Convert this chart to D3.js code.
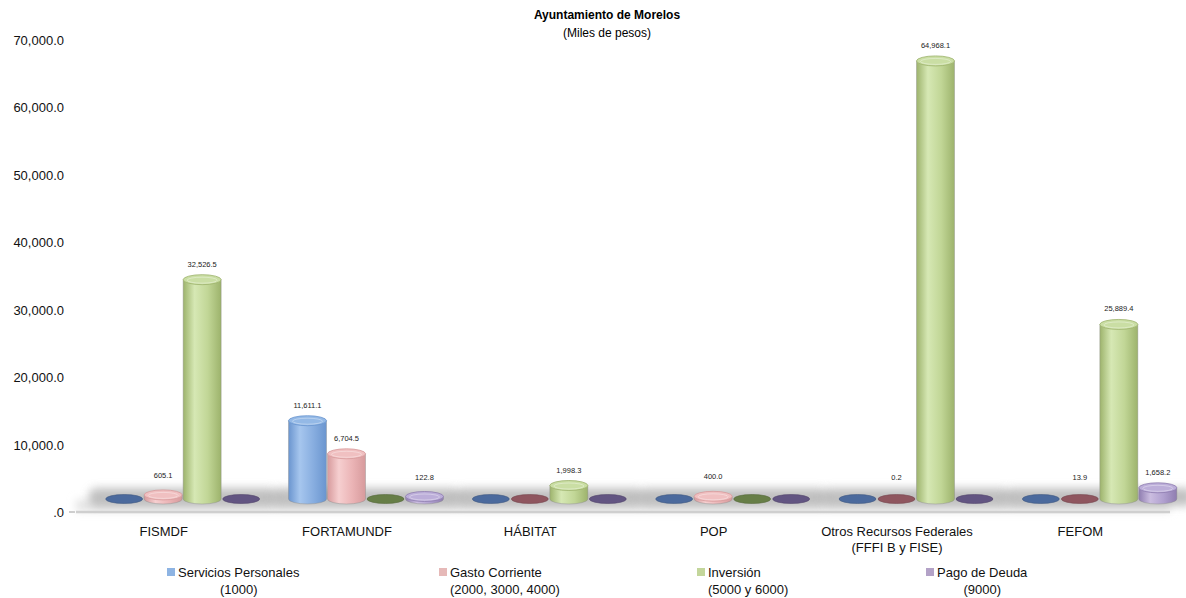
<!DOCTYPE html>
<html><head><meta charset="utf-8">
<script src="https://cdn.jsdelivr.net/npm/d3@7"></script>
<style>body{margin:0;background:#fff;}svg{display:block;font-family:"Liberation Sans",Arial,sans-serif;}</style>
</head><body>
<svg id="c" width="1186" height="598"></svg>
<script>
const categories = ["FISMDF","FORTAMUNDF","HÁBITAT","POP","Otros Recursos Federales|(FFFI B y FISE)","FEFOM"];
const seriesNames = ["Servicios Personales","Gasto Corriente","Inversión","Pago de Deuda"];
const seriesCodes = ["(1000)","(2000, 3000, 4000)","(5000 y 6000)","(9000)"];
const serviciosPersonales = [0, 11611.1, 0, 0, 0, 0];
const gastoCorriente = [605.1, 6704.5, 0, 400.0, 0.2, 13.9];
const inversion = [32526.5, 0, 1998.3, 0, 64968.1, 25889.4];
const pagoDeuda = [0, 122.8, 0, 0, 0, 1658.2];
const yTicks = [0,10000,20000,30000,40000,50000,60000,70000];
const seriesValues = [serviciosPersonales, gastoCorriente, inversion, pagoDeuda];

const light = [
  {edge:"#6a95cf", mid:"#a6c6ee", base:"#88aee0", top:"#94b9e6"},
  {edge:"#d79a9c", mid:"#f6cfd0", base:"#ebb4b6", top:"#f0c0c1"},
  {edge:"#9db36c", mid:"#d6e8b4", base:"#c1d696", top:"#cadea4"},
  {edge:"#8f7db0", mid:"#cbbde0", base:"#b0a0cf", top:"#bcaed9"}
];
const dark = ["#42639a","#8b4d57","#60793d","#5b4c7d"];
const legendColors = ["#8eb4e3","#e6b9b8","#c3d69b","#b3a2c7"];

const svg = d3.select("#c");
const defs = svg.append("defs");
light.forEach((c,i)=>{
  const g = defs.append("linearGradient").attr("id","g"+i).attr("x1","0").attr("x2","1").attr("y1","0").attr("y2","0");
  g.append("stop").attr("offset","0%").attr("stop-color",c.edge);
  g.append("stop").attr("offset","30%").attr("stop-color",c.mid);
  g.append("stop").attr("offset","65%").attr("stop-color",c.base);
  g.append("stop").attr("offset","100%").attr("stop-color",c.edge);
});
defs.append("filter").attr("id","blur").attr("x","-20%").attr("y","-100%").attr("width","140%").attr("height","300%")
  .append("feGaussianBlur").attr("stdDeviation",4.5);

const x = d3.scaleBand().domain(categories).range([72,1172]);
const xs = d3.scaleBand().domain(d3.range(4)).range([-78,78]);
const y = d3.scaleLinear().domain([0,70000]).range([512,40]);
const depth = 13, shiftX = 19, rx = 19, ry = 5;

// title
svg.append("text").attr("x",607).attr("y",19).attr("text-anchor","middle").attr("font-size",12).attr("font-weight","bold").text("Ayuntamiento de Morelos");
svg.append("text").attr("x",607).attr("y",37).attr("text-anchor","middle").attr("font-size",12).text("(Miles de pesos)");

// y axis labels
svg.append("g").selectAll("text").data(yTicks).join("text")
  .attr("x",64).attr("y",d=>y(d)+5).attr("text-anchor","end").attr("font-size",13).attr("fill","#111")
  .text(d=> d===0 ? ".0" : d3.format(",.1f")(d));
svg.append("line").attr("x1",69).attr("x2",75).attr("y1",y(0)).attr("y2",y(0)).attr("stroke","#bbb").attr("stroke-width",1.5);

// floor
const floor = svg.append("g");
floor.append("rect").attr("x",76).attr("y",500).attr("width",1094).attr("height",11).attr("fill","#e2e2e2").attr("filter","url(#blur)");
floor.selectAll("rect.sh").data(categories).join("rect").attr("class","sh")
  .attr("x",d=>x(d)+x.bandwidth()/2+shiftX-94).attr("y",488).attr("width",188).attr("height",18).attr("rx",8)
  .attr("fill","#a8a8a8").attr("opacity",0.7).attr("filter","url(#blur)");
svg.append("line").attr("x1",76).attr("x2",1170).attr("y1",y(0)).attr("y2",y(0)).attr("stroke","#cfcfcf").attr("stroke-width",2.5);

// bars
const bars = svg.append("g");
categories.forEach((cat,ci)=>{
  seriesValues.forEach((vals,si)=>{
    const v = vals[ci];
    const cx = x(cat)+x.bandwidth()/2+shiftX + xs(si)+xs.bandwidth()/2;
    const base = y(0)-depth, top = y(v)-depth;
    const g = bars.append("g");
    if (v < 50) {
      g.append("ellipse").attr("cx",cx).attr("cy",base).attr("rx",rx-0.5).attr("ry",ry-0.5)
        .attr("fill",dark[si]).attr("stroke",d3.color(dark[si]).darker(0.6)).attr("stroke-width",0.6).attr("opacity",0.92);
    } else {
      const c = light[si];
      const h = Math.max(base-top, 2.5);
      const t = base - h;
      g.append("path").attr("d",`M${cx-rx},${t} L${cx-rx},${base} A${rx},${ry} 0 0 0 ${cx+rx},${base} L${cx+rx},${t} Z`)
        .attr("fill",`url(#g${si})`).attr("stroke","#8a8a8a").attr("stroke-opacity",0.5).attr("stroke-width",0.8);
      g.append("ellipse").attr("cx",cx).attr("cy",t).attr("rx",rx).attr("ry",ry)
        .attr("fill",c.top).attr("stroke",c.edge).attr("stroke-width",0.8);
      g.append("ellipse").attr("cx",cx).attr("cy",t+0.5).attr("rx",rx-4).attr("ry",ry-2)
        .attr("fill","none").attr("stroke","#ffffff").attr("stroke-opacity",0.35).attr("stroke-width",1);
    }
    if (v > 0) {
      const t = Math.min(top, base-2.5);
      g.append("text").attr("x",cx).attr("y",t-(v<1000?17:13)).attr("text-anchor","middle").attr("font-size",7.5).attr("fill","#222")
        .text(d3.format(",.1f")(v));
    }
  });
});

// category labels
const cl = svg.append("g");
categories.forEach(cat=>{
  const lines = cat.split("|");
  const t = cl.append("text").attr("text-anchor","middle").attr("font-size",13).attr("fill","#111");
  lines.forEach((ln,i)=>t.append("tspan").attr("x",x(cat)+x.bandwidth()/2).attr("y",536+i*16).text(ln));
});

// legend
const legX = [167, 439, 697, 926];
const align = ["middle","start","start","middle"];
const lg = svg.append("g");
seriesNames.forEach((n,i)=>{
  const sx = legX[i];
  lg.append("rect").attr("x",sx).attr("y",568).attr("width",8).attr("height",8).attr("fill",legendColors[i]);
  const t1 = lg.append("text").attr("x",sx+11).attr("y",577).attr("font-size",13).attr("fill","#111").text(n);
  const w = t1.node().getComputedTextLength();
  lg.append("text").attr("x", align[i]==="middle" ? sx+11+w/2 : sx+11).attr("y",594)
    .attr("text-anchor",align[i]).attr("font-size",13).attr("fill","#111").text(seriesCodes[i]);
});
</script>
</body></html>
